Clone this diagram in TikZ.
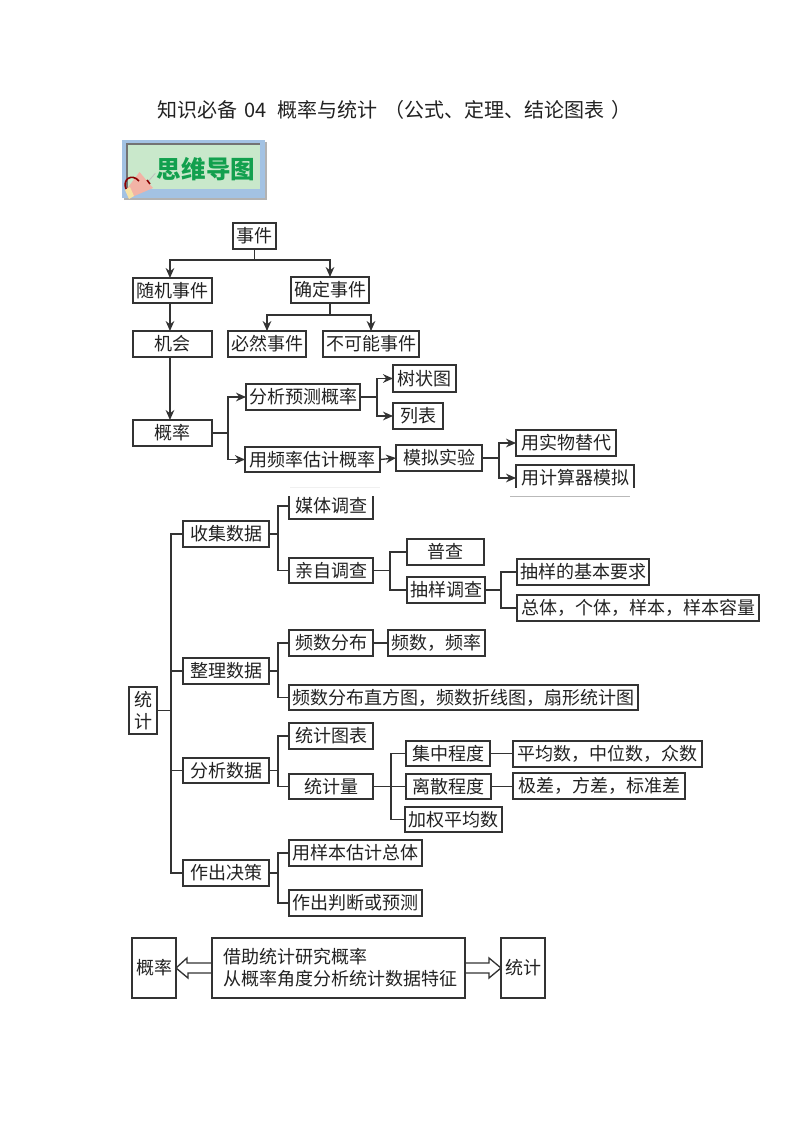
\documentclass[tikz,border=0pt]{standalone}
\usepackage{fontspec}
\setmainfont{Noto Sans CJK SC}
\usetikzlibrary{arrows.meta,calc}
\definecolor{ink}{HTML}{222222}
\definecolor{lineink}{HTML}{333333}
\definecolor{bannerblue}{HTML}{A3C2E3}
\definecolor{bannergreen}{HTML}{C9E8CB}
\definecolor{bannertext}{HTML}{12A04E}
\definecolor{hornpink}{HTML}{F2B3A6}
\definecolor{horncream}{HTML}{F6E2A4}
\tikzset{
  bx/.style={draw=lineink,line width=1pt,fill=white,inner sep=0pt,outer sep=0pt,text=ink,font=\fontsize{13.5}{16.5}\selectfont,align=center},
  conn/.style={draw=lineink,line width=1pt},
  arr/.style={conn,-{Stealth[length=7.5pt,width=6.5pt]}},
  hollow/.style={draw=lineink,line width=1pt,line join=miter},
}
\newcommand{\bx}[6]{\node[bx,minimum width={(#4-#2)*0.75pt},minimum height={(#5-#3)*0.75pt}] (#1) at ({(#2+#4)/2},{(#3+#5)/2}) {#6};}
\begin{document}
\begin{tikzpicture}[x=0.75pt,y=-0.75pt]
\useasboundingbox (0,0) rectangle (794,1123);
\fill[white] (0,0) rectangle (794,1123);
% title
\node[text=ink,font=\fontsize{15}{18}\selectfont,inner sep=0pt,anchor=west] (title) at (157,110) {知识必备\hspace{2pt} 04\hspace{5pt} 概率与统计\hspace{5pt}（公式、定理、结论图表\hspace{5pt}）};
% banner
\fill[gray!60] (124,142) rectangle (267,200);
\fill[bannerblue] (122,140) rectangle (265,198);
\fill[bannergreen] (127,144) rectangle (260,189);
\draw[gray!90!black,line width=1pt] (127,189) -- (127,144) -- (260,144);
\node[text=bannertext,font=\fontsize{18.4}{22}\selectfont\bfseries,inner sep=0pt] (bannerlabel) at (206,169) {思维导图};
\fill[gray!50] (148,181) -- (155,173) -- (155.6,173.6) -- (148.6,181.6) -- cycle;
\fill[hornpink] (139.5,172) -- (153,188) -- (132,197) -- (126,190) -- cycle;
\fill[horncream] (125,190) -- (130,187) -- (134,196) -- (129,199) -- cycle;
\draw[red!55!black,line width=1.2pt] (126,189) .. controls (122,179) and (132,173) .. (139,181);
\draw[red!55!black,line width=1.2pt] (147,180) -- (150,184);
% top tree
\bx{ev}{233}{223}{276}{249}{事件}
\bx{rnd}{133}{278}{212}{303}{随机事件}
\bx{det}{291}{277}{369}{303}{确定事件}
\bx{chance}{133}{331}{212}{357}{机会}
\bx{must}{228}{331}{306}{357}{必然事件}
\bx{imp}{323}{331}{419}{357}{不可能事件}
\bx{prob}{133}{420}{212}{446}{概率}
\bx{fenxi}{246}{384}{360}{410}{分析预测概率}
\bx{pinlv}{245}{447}{380}{472}{用频率估计概率}
\bx{tree}{393}{365}{456}{392}{树状图}
\bx{tbl}{393}{403}{443}{429}{列表}
\bx{moni}{396}{445}{482}{471}{模拟实验}
\bx{shiwu}{516}{430}{616}{456}{用实物替代}
\bx{jsq}{516}{465}{634}{491}{用计算器模拟}
\coordinate (j1) at (254.5,260);
\draw[conn] (ev.south) -- (j1);
\draw[arr] (j1) -| ([xshift=-1.9pt]rnd.north);
\draw[arr] (j1) -| (det.north);
\draw[arr] ([xshift=-1.9pt]rnd.south) -- ([xshift=-1.9pt]chance.north);
\draw[arr] ([xshift=-1.9pt]chance.south) -- ([xshift=-1.9pt]prob.north);
\coordinate (j2) at (330,315);
\draw[conn] (det.south) -- (j2);
\draw[arr] (j2) -| (must.north);
\draw[arr] (j2) -| (imp.north);
\coordinate (j3) at (228,433);
\draw[conn] (prob.east) -- (j3);
\draw[arr] (j3) |- (fenxi.west);
\draw[arr] (j3) |- (pinlv.west);
\coordinate (j4) at (377,397);
\draw[conn] (fenxi.east) -- (j4);
\draw[arr] (j4) |- (tree.west);
\draw[arr] (j4) |- (tbl.west);
\draw[arr] (pinlv.east) -- (moni.west);
\coordinate (j5) at (499,458);
\draw[conn] (moni.east) -- (j5);
\draw[arr] (j5) |- (shiwu.west);
\draw[arr] (j5) |- (jsq.west);
% lower tree
\bx{tj}{129}{687}{157}{734}{统\\计}
\bx{sj}{183}{521}{269}{547}{收集数据}
\bx{zl}{183}{658}{269}{684}{整理数据}
\bx{fx}{183}{758}{269}{783}{分析数据}
\bx{jc}{183}{860}{269}{886}{作出决策}
\bx{mt}{289}{493}{373}{519}{媒体调查}
\bx{qz}{289}{558}{373}{583}{亲自调查}
\bx{pc}{407}{539}{484}{565}{普查}
\bx{cy}{407}{577}{485}{603}{抽样调查}
\bx{yq}{517}{559}{649}{585}{抽样的基本要求}
\bx{zt}{517}{595}{759}{621}{总体，个体，样本，样本容量}
\bx{pf}{289}{630}{373}{656}{频数分布}
\bx{pp}{388}{630}{485}{656}{频数，频率}
\bx{zf}{289}{685}{638}{710}{频数分布直方图，频数折线图，扇形统计图}
\bx{tb}{289}{723}{373}{749}{统计图表}
\bx{tl}{289}{774}{373}{799}{统计量}
\bx{jz}{406}{741}{490}{766}{集中程度}
\bx{ls}{406}{774}{491}{799}{离散程度}
\bx{jq}{405}{807}{502}{832}{加权平均数}
\bx{pj}{513}{741}{702}{767}{平均数，中位数，众数}
\bx{jic}{513}{773}{685}{799}{极差，方差，标准差}
\bx{gj}{289}{840}{422}{866}{用样本估计总体}
\bx{pd}{289}{890}{422}{916}{作出判断或预测}
\coordinate (t0) at (171,710.5);
\draw[conn] (tj.east) -- (t0);
\draw[conn] (sj.west) -| (t0);
\draw[conn] (zl.west) -| (t0);
\draw[conn] (fx.west) -| (t0);
\draw[conn] (jc.west) -| (t0);
\coordinate (a1) at (278,534);
\draw[conn] (sj.east) -- (a1);
\draw[conn] (a1) |- (mt.west);
\draw[conn] (a1) |- (qz.west);
\coordinate (a2) at (390,570.5);
\draw[conn] (qz.east) -- (a2);
\draw[conn] (a2) |- (pc.west);
\draw[conn] (a2) |- (cy.west);
\coordinate (a3) at (501,590);
\draw[conn] (cy.east) -- (a3);
\draw[conn] (a3) |- (yq.west);
\draw[conn] (a3) |- (zt.west);
\coordinate (a4) at (278,671);
\draw[conn] (zl.east) -- (a4);
\draw[conn] (a4) |- (pf.west);
\draw[conn] (a4) |- (zf.west);
\draw[conn] (pf.east) -- (pp.west);
\coordinate (a5) at (278,770.5);
\draw[conn] (fx.east) -- (a5);
\draw[conn] (a5) |- (tb.west);
\draw[conn] (a5) |- (tl.west);
\coordinate (a6) at (391,786.5);
\draw[conn] (tl.east) -- (a6);
\draw[conn] (a6) |- (jz.west);
\draw[conn] (a6) |- (ls.west);
\draw[conn] (a6) |- (jq.west);
\draw[conn] (jz.east) -- (pj.west |- jz.east);
\draw[conn] (ls.east) -- (jic.west |- ls.east);
\coordinate (a7) at (278,873);
\draw[conn] (jc.east) -- (a7);
\draw[conn] (a7) |- (gj.west);
\draw[conn] (a7) |- (pd.west);
% scan seam
\fill[white] (505,488) rectangle (640,495.5);
\fill[white] (285,485) rectangle (380,495.5);
\draw[gray!55,line width=0.6pt] (510,496) -- (630,496);
\draw[gray!12,line width=0.6pt] (290,487) -- (380,487);
% bottom row
\bx{bp}{132}{938}{176}{998}{概率}
\node[bx,minimum width={253*0.75pt},minimum height={60*0.75pt},text width={231*0.75pt},align=left] (mid) at (338.5,968) {借助统计研究概率\\从概率角度分析统计数据特征};
\bx{bt}{501}{938}{545}{998}{统计}
\draw[hollow] ($(mid.west)+(0,-5)$) -- ++(-25,0) -- ++(0,-5) -- (bp.east) -- ++(12,10) -- ++(0,-5) -- ($(mid.west)+(0,5)$);
\draw[hollow] ($(mid.east)+(0,-5)$) -- ++(24,0) -- ++(0,-5) -- (bt.west) -- ++(-12,10) -- ++(0,-5) -- ($(mid.east)+(0,5)$);
\end{tikzpicture}
\end{document}
